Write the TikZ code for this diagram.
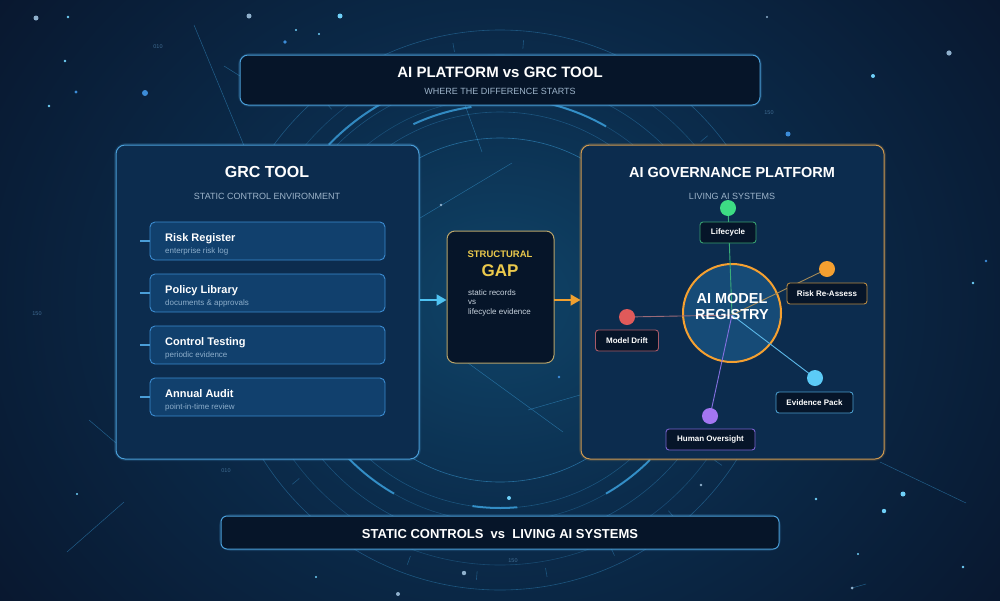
\documentclass[tikz,border=0pt]{standalone}
\usepackage{fontspec}
\setmainfont{Liberation Sans}
\usetikzlibrary{arrows.meta,calc}
\definecolor{bgin}{HTML}{0F4468}
\definecolor{bgmid}{HTML}{0B2C4C}
\definecolor{bgout}{HTML}{08142A}
\definecolor{ringc}{HTML}{3FA9E8}
\definecolor{panelfill}{HTML}{0C2C4E}
\definecolor{bluebrd}{HTML}{4A9ED8}
\definecolor{itemfill}{HTML}{11406D}
\definecolor{itembrd}{HTML}{3B8BD0}
\definecolor{darkfill}{HTML}{061529}
\definecolor{orangebrd}{HTML}{D09A50}
\definecolor{goldbrd}{HTML}{B8A46A}
\definecolor{goldtxt}{HTML}{EBC94C}
\definecolor{subtxt}{HTML}{9DB4CA}
\definecolor{itemsub}{HTML}{8DAECB}
\definecolor{gaptxt}{HTML}{C8D3DE}
\definecolor{arrowblue}{HTML}{4FC3F2}
\definecolor{arroworange}{HTML}{F0A030}
\definecolor{cgreen}{HTML}{3DDC84}
\definecolor{corange}{HTML}{F5A030}
\definecolor{cred}{HTML}{E05A5A}
\definecolor{ccyan}{HTML}{5CCBF7}
\definecolor{cpurple}{HTML}{A376F2}
\definecolor{lgreen}{HTML}{3AAE7A}
\definecolor{lorange}{HTML}{A48A58}
\definecolor{lred}{HTML}{9A6A78}
\definecolor{lcyan}{HTML}{5CB8E8}
\definecolor{lpurple}{HTML}{8470E0}
\definecolor{bgreen}{HTML}{38A070}
\definecolor{borange}{HTML}{B88A44}
\definecolor{bred}{HTML}{A85A68}
\definecolor{bcyan}{HTML}{4A9CCC}
\definecolor{bpurple}{HTML}{7A62D0}
\definecolor{regfill}{HTML}{164B77}
\definecolor{dotgray}{HTML}{8FB0CC}
\definecolor{dotblue}{HTML}{3C8CD8}
\definecolor{dotcyan}{HTML}{6FD0F8}
\definecolor{labc}{HTML}{3E6A90}
\newcommand{\fsz}[1]{\fontsize{#1pt}{#1pt}\selectfont}
\pgfdeclareradialshading{bgshade}{\pgfpoint{0bp}{0bp}}{color(0bp)=(bgin); color(10bp)=(bgmid); color(26bp)=(bgout); color(50bp)=(bgout)}
\begin{document}
\begin{tikzpicture}[x=1pt,y=-1pt,
  panel/.style={line width=1pt, rounded corners=9pt, fill=panelfill},
  glow/.style={line width=4pt, rounded corners=10pt, opacity=0.18},
  itembox/.style={draw=itembrd, line width=0.9pt, rounded corners=5pt, fill=itemfill, minimum width=235pt, minimum height=38pt, inner sep=0pt},
  ititle/.style={font=\bfseries\fsz{11}, text=white, inner sep=0pt, anchor=base west},
  isub/.style={font=\fsz{8}, text=itemsub, inner sep=0pt, anchor=base west},
  ticker/.style={draw=bluebrd, line width=1.4pt},
  hdr/.style={font=\bfseries\fsz{15.5}, text=white, inner sep=0pt, anchor=base},
  subhdr/.style={font=\fsz{9}, text=subtxt, inner sep=0pt, anchor=base},
  smallnode/.style={draw=#1, line width=0.9pt, rounded corners=3pt, fill=darkfill, font=\bfseries\fsz{8}, text=white, inner sep=0pt, minimum height=21pt},
  dotc/.style={fill=#1, draw=none},
  hubline/.style={draw=#1, line width=0.9pt},
  ring/.style={draw=ringc, line width=0.6pt},
  thickring/.style={draw=ringc, line width=2pt, opacity=0.75},
  deco/.style={draw=ringc, line width=0.5pt, opacity=0.45},
  lab/.style={font=\fsz{5.5}, text=labc, inner sep=0pt}
]
\useasboundingbox (0,0) rectangle (1000,600);
\begin{scope}
\clip (0,0) rectangle (1000,600);
\shade[shading=bgshade] (-150,-260) rectangle (1150,860);
% rings
\foreach \r/\o in {172/0.5, 198/0.3, 212/0.25, 232/0.3, 255/0.25, 280/0.35}
  \draw[ring, opacity=\o] (500,310) circle (\r);
\draw[thickring] (500,310) ++(120:212) arc (120:140:212);
\draw[thickring] (500,310) ++(45:212) arc (45:60:212);
\draw[thickring] (500,310) ++(85:198) arc (85:98:198);
\draw[thickring] (500,310) ++(224:238) arc (224:240:238);
\draw[thickring] (500,310) ++(245:205) arc (245:262:205);
\draw[thickring] (500,310) ++(282:212) arc (282:300:212);
\draw[thickring] (500,310) ++(100:240) arc (100:112:240);
\foreach \a in {20,35,...,350}
  \draw[ring, opacity=0.35] (500,310) ++(\a:262) -- ++(\a:9);
% deco lines
\draw[deco] (194,25) -- (252,165);
\draw[deco] (224,66) -- (240,76);
\draw[deco] (89,420) -- (116,443);
\draw[deco] (67,552) -- (124,502);
\draw[deco] (880,462) -- (966,503);
\draw[deco] (420,218) -- (512,163);
\draw[deco] (468,363) -- (563,432);
\draw[deco] (528,410) -- (580,395);
\draw[deco] (465,105) -- (482,152);
\draw[deco] (852,588) -- (866,584);
% dots
\foreach \x/\y/\r/\c in {36/18/2.5/dotgray, 68/17/1.3/dotcyan, 65/61/1.3/dotcyan, 76/92/1.6/dotblue, 49/106/1.3/dotcyan, 145/93/3/dotblue, 249/16/2.5/dotgray, 340/16/2.5/dotcyan, 296/30/1.2/dotcyan, 319/34/1.2/dotcyan, 285/42/1.8/dotblue, 767/17/1.2/dotgray, 949/53/2.6/dotgray, 873/76/2/dotcyan, 788/134/2.5/dotblue, 986/261/1.3/dotblue, 973/283/1.3/dotcyan, 903/494/2.5/dotcyan, 884/511/2.2/dotcyan, 816/499/1.3/dotcyan, 963/567/1.3/dotcyan, 852/588/1.5/dotgray, 858/554/1.1/dotcyan, 77/494/1.2/dotcyan, 316/577/1.2/dotcyan, 398/594/2/dotgray, 464/573/2.2/dotgray, 509/498/2/dotcyan, 701/485/1.3/dotgray, 441/205/1.3/dotgray, 559/377/1.3/dotblue}
  \fill[\c] (\x,\y) circle (\r);
% labels
\node[lab] (l1) at (158,47) {010};
\node[lab] (l2) at (226,471) {010};
\node[lab] (l3) at (37,314) {150};
\node[lab] (l4) at (769,113) {150};
\node[lab] (l5) at (513,561) {150};
\end{scope}

% Title box
\draw[glow, bluebrd] (240,55) rectangle (760,105);
\node[draw=bluebrd, line width=1pt, rounded corners=8pt, fill=darkfill, minimum width=520pt, minimum height=50pt, inner sep=0pt] (title) at (500,80) {};
\node[hdr, font=\bfseries\fsz{15}] (titleT) at (500,77) {AI PLATFORM vs GRC TOOL};
\node[subhdr] (titleS) at (500,94) {WHERE THE DIFFERENCE STARTS};

% Left panel
\draw[glow, bluebrd] (116,145) rectangle (419,459);
\node[panel, draw=bluebrd, minimum width=303pt, minimum height=314pt, inner sep=0pt] (grc) at (267.5,302) {};
\node[hdr, font=\bfseries\fsz{16}] (grcT) at (267,177) {GRC TOOL};
\node[subhdr] (grcS) at (267,199) {STATIC CONTROL ENVIRONMENT};

\foreach \n/\t/\s/\yy in {rr/Risk Register/enterprise risk log/222, pl/Policy Library/documents \& approvals/274, ct/Control Testing/periodic evidence/326, aa/Annual Audit/point-in-time review/378}{
  \node[itembox] (\n) at (267.5,\yy+19) {};
  \coordinate (\n tick) at (140,\yy+19);
  \draw[ticker] (\n tick) -- (\n.west);
  \node[ititle] (\n T) at (165,\yy+19) {\t};
  \node[isub] (\n S) at (165,\yy+31) {\s};
}

% Right panel
\draw[glow, orangebrd] (581,145) rectangle (884,459);
\node[panel, draw=orangebrd, minimum width=303pt, minimum height=314pt, inner sep=0pt] (aigp) at (732.5,302) {};
\node[hdr, font=\bfseries\fsz{14.5}] (aigpT) at (732,177) {AI GOVERNANCE PLATFORM};
\node[subhdr] (aigpS) at (732,199) {LIVING AI SYSTEMS};

% Gap box
\node[draw=goldbrd, line width=1pt, rounded corners=8pt, fill=darkfill, minimum width=107pt, minimum height=132pt, inner sep=0pt] (gap) at (500.5,297) {};
\node[font=\bfseries\fsz{9.5}, text=goldtxt, inner sep=0pt, anchor=base] (gapA) at (500,257) {STRUCTURAL};
\node[font=\bfseries\fsz{17}, text=goldtxt, inner sep=0pt, anchor=base] (gapB) at (500,276) {GAP};
\node[font=\fsz{8}, text=gaptxt, inner sep=0pt, anchor=base west] (gapC) at (468,295) {static records};
\node[font=\fsz{8}, text=gaptxt, inner sep=0pt, anchor=base west] (gapD) at (468,304.5) {vs};
\node[font=\fsz{8}, text=gaptxt, inner sep=0pt, anchor=base west] (gapE) at (468,314) {lifecycle evidence};

% arrows
\coordinate (a1) at (419.5,300);
\draw[arrowblue, line width=2pt, -{Triangle[length=10pt,width=11pt]}] (a1) -- (gap.west |- a1);
\coordinate (a2) at (554,300);
\draw[arroworange, line width=2pt, -{Triangle[length=10pt,width=11pt]}] (a2) -- (aigp.west |- a2);

% Registry
\node[circle, draw=corange, line width=2pt, fill=regfill, minimum size=98pt, inner sep=0pt] (reg) at (732,313) {};
\coordinate (hub) at (732,315);
\coordinate (dG) at (728,208);
\coordinate (dO) at (827,269);
\coordinate (dR) at (627,317);
\coordinate (dC) at (815,378);
\coordinate (dP) at (710,416);
\draw[hubline=lgreen] (hub) -- (dG);
\draw[hubline=lorange] (hub) -- (dO);
\draw[hubline=lred] (hub) -- (dR);
\draw[hubline=lcyan] (hub) -- (dC);
\draw[hubline=lpurple] (hub) -- (dP);
\fill[dotc=cgreen] (dG) circle (8);
\fill[dotc=corange] (dO) circle (8);
\fill[dotc=cred] (dR) circle (8);
\fill[dotc=ccyan] (dC) circle (8);
\fill[dotc=cpurple] (dP) circle (8);
\node[smallnode=bgreen, minimum width=56pt] (life) at (728,232.5) {Lifecycle};
\node[smallnode=borange, minimum width=80pt] (risk) at (827,293.5) {Risk Re-Assess};
\node[smallnode=bred, minimum width=63pt] (drift) at (627,340.5) {Model Drift};
\node[smallnode=bcyan, minimum width=77pt] (evid) at (814.5,402.5) {Evidence Pack};
\node[smallnode=bpurple, minimum width=89pt] (human) at (710.5,439.5) {Human Oversight};
\node[font=\bfseries\fsz{14.5}, text=white, inner sep=0pt, anchor=base] (regA) at (732,303) {AI MODEL};
\node[font=\bfseries\fsz{14.5}, text=white, inner sep=0pt, anchor=base] (regB) at (732,319) {REGISTRY};

% Bottom box
\draw[glow, bluebrd] (221,516) rectangle (779,549);
\node[draw=bluebrd, line width=1pt, rounded corners=6pt, fill=darkfill, minimum width=558pt, minimum height=33pt, inner sep=0pt] (bottom) at (500,532.5) {};
\node[font=\bfseries\fsz{13}, text=white, inner sep=0pt, anchor=base] (bottomT) at (500,538) {STATIC CONTROLS\ \ vs\ \ LIVING AI SYSTEMS};
\end{tikzpicture}
\end{document}
